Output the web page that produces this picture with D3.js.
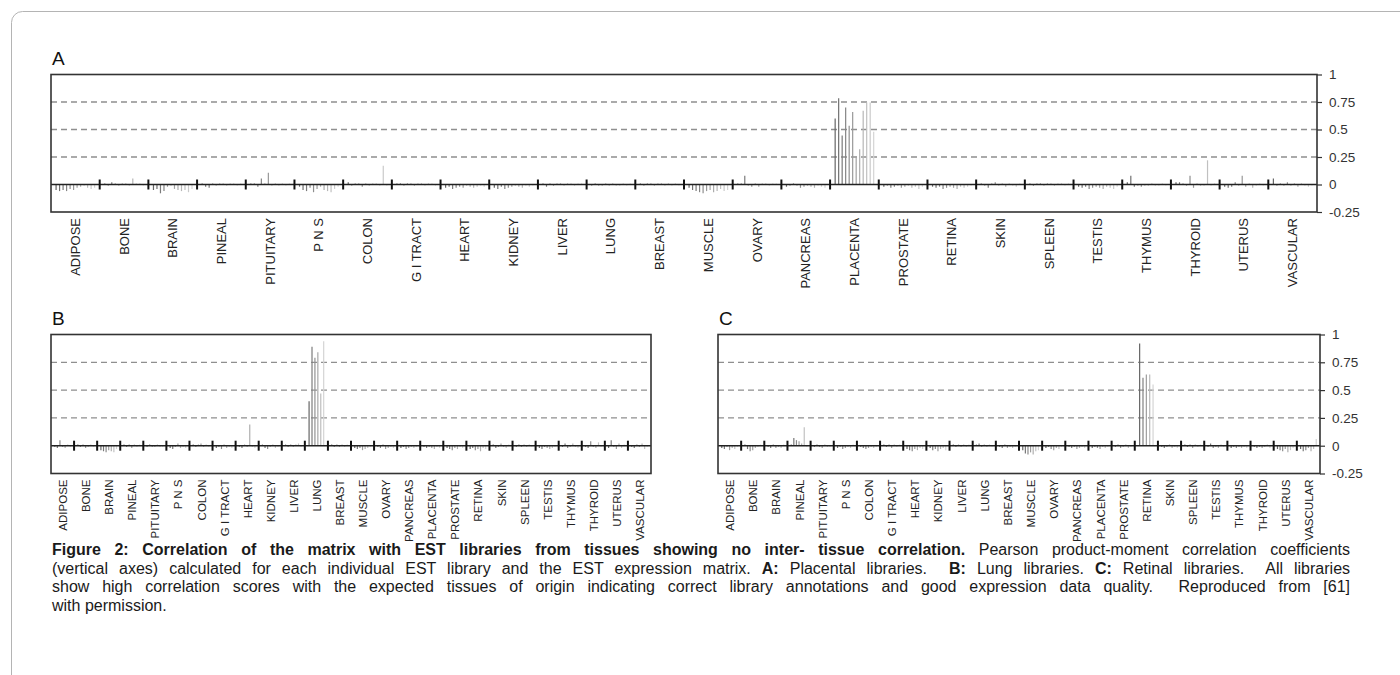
<!DOCTYPE html>
<html>
<head>
<meta charset="utf-8">
<script src="https://cdn.jsdelivr.net/npm/d3@7"></script>
<style>
  body { margin: 0; background: #fff; }
  svg { display: block; font-family: 'Liberation Sans', Arial, sans-serif; }
</style>
</head>
<body>
<svg id="fig" width="1400" height="675"></svg>
<script>
// tissue categories (same for all three panels)
let tissues = ['ADIPOSE', 'BONE', 'BRAIN', 'PINEAL', 'PITUITARY', 'P N S', 'COLON', 'G I TRACT',
  'HEART', 'KIDNEY', 'LIVER', 'LUNG', 'BREAST', 'MUSCLE', 'OVARY', 'PANCREAS', 'PLACENTA',
  'PROSTATE', 'RETINA', 'SKIN', 'SPLEEN', 'TESTIS', 'THYMUS', 'THYROID', 'UTERUS', 'VASCULAR']

let yTicks = [-0.25, 0, 0.25, 0.5, 0.75, 1]
let gridValues = [0.25, 0.5, 0.75]

// A: correlation with placental libraries, one array per tissue
let placentalCorr = [
  [-0.05, -0.06, -0.05, -0.06, -0.04, -0.05, -0.03, -0.02, -0.01, -0.03, -0.04, -0.03],
  [0.01, -0.01, 0.02, 0.01, -0.01, 0.01, 0.01, -0.01, 0.055, 0.01, 0.01, -0.01],
  [-0.05, -0.04, -0.08, -0.06, -0.02, -0.01, -0.04, -0.05, -0.06, -0.05, -0.07, -0.04],
  [0.01, -0.02, -0.03, 0.01, -0.01, 0.01, 0.01, -0.01, 0.01, 0.01, -0.01, 0.01],
  [0.01, 0.01, -0.02, 0.055, 0.01, 0.106, -0.01, 0.01, -0.01, 0.01, -0.01, 0.01],
  [-0.02, -0.05, -0.06, -0.03, -0.07, -0.04, -0.02, -0.05, -0.06, -0.07, -0.04, -0.02],
  [0.02, -0.01, 0.01, 0.01, -0.02, 0.01, -0.01, 0.01, 0.01, -0.01, 0.17, -0.01],
  [0.01, 0.01, -0.01, 0.01, 0.01, -0.01, 0.01, 0.01, -0.01, 0.01, 0.01, -0.01],
  [-0.03, -0.02, -0.04, -0.03, -0.02, -0.03, -0.01, -0.02, -0.03, -0.02, -0.01, -0.02],
  [-0.03, -0.04, -0.02, -0.04, -0.03, -0.02, -0.01, -0.02, -0.03, -0.01, -0.02, -0.01],
  [0.01, -0.02, 0.01, -0.01, 0.01, 0.01, -0.01, 0.01, 0.01, -0.01, 0.01, 0.01],
  [-0.01, 0.01, -0.01, -0.01, 0.01, -0.01, 0.01, -0.01, -0.01, 0.01, -0.01, 0.01],
  [0.01, -0.01, 0.01, 0.01, -0.01, 0.01, 0.01, -0.01, 0.01, -0.01, 0.01, -0.01],
  [-0.03, -0.05, -0.06, -0.07, -0.08, -0.06, -0.05, -0.07, -0.06, -0.04, -0.06, -0.05],
  [0.01, 0.01, 0.08, -0.01, -0.02, 0.01, -0.02, 0.01, 0.01, -0.01, 0.01, 0.01],
  [-0.02, -0.01, 0.01, -0.01, -0.03, -0.02, -0.01, -0.02, -0.03, -0.01, -0.02, -0.03],
  [0.6, 0.785, 0.445, 0.7, 0.535, 0.66, 0.255, 0.32, 0.67, 0.745, 0.745, 0.48],
  [-0.02, -0.01, -0.03, -0.02, -0.01, -0.03, -0.02, -0.01, -0.03, -0.02, -0.04, -0.02],
  [-0.02, -0.03, -0.02, -0.04, -0.03, -0.02, -0.03, -0.04, -0.02, -0.03, -0.02, -0.01],
  [0.01, -0.01, -0.03, 0.01, 0.02, -0.01, 0.01, -0.02, 0.01, -0.01, -0.02, 0.01],
  [0.01, -0.01, 0.01, 0.01, -0.01, 0.01, 0.01, -0.01, 0.01, 0.01, -0.01, 0.01],
  [-0.02, -0.03, -0.02, -0.04, -0.03, -0.02, -0.03, -0.04, -0.02, -0.03, -0.04, -0.02],
  [0.02, 0.08, -0.02, -0.01, -0.02, -0.01, -0.01, 0.01, -0.01, -0.01, 0.01, -0.01],
  [0.02, 0.02, 0.01, -0.01, 0.08, -0.03, 0.01, -0.01, -0.01, 0.22, -0.01, 0.01],
  [-0.02, -0.03, -0.02, 0.02, -0.01, 0.08, -0.02, 0.01, -0.03, -0.01, 0.01, -0.01],
  [0.055, -0.01, 0.01, -0.01, 0.02, -0.01, 0.01, -0.02, 0.01, -0.01, -0.02, -0.01]
]

// B: correlation with lung libraries
let lungCorr = [
  [-0.01, -0.02, 0.05, -0.01, -0.02, 0.01, -0.01],
  [0.01, -0.01, 0.01, -0.02, -0.01, 0.01, -0.01],
  [-0.04, -0.05, -0.06, -0.04, -0.05, -0.06, -0.03],
  [0.01, -0.01, 0.01, -0.02, 0.01, -0.01, 0.01],
  [-0.01, 0.01, -0.01, -0.01, 0.01, -0.01, -0.01],
  [-0.02, -0.03, -0.01, 0.02, -0.02, -0.01, -0.02],
  [0.01, -0.01, 0.01, 0.02, -0.01, 0.01, -0.01],
  [-0.02, -0.01, -0.03, 0.01, -0.02, -0.01, -0.02],
  [-0.01, -0.02, 0.01, -0.01, 0.19, -0.01, -0.02],
  [0.01, -0.02, -0.03, -0.01, 0.01, -0.02, -0.01],
  [0.01, -0.01, 0.01, -0.01, 0.01, 0.02, -0.01],
  [0.4, 0.89, 0.79, 0.84, 0.47, 0.94],
  [0.01, -0.01, 0.01, -0.01, 0.01, -0.01, 0.01],
  [-0.02, -0.03, -0.02, -0.04, -0.03, -0.02, -0.01],
  [-0.01, -0.02, 0.01, -0.03, -0.02, -0.01, -0.02],
  [-0.02, -0.01, -0.03, -0.02, -0.01, -0.02, -0.01],
  [-0.01, -0.02, -0.01, -0.02, -0.03, -0.01, -0.02],
  [-0.02, -0.03, -0.04, -0.02, -0.03, -0.01, -0.02],
  [-0.03, -0.02, -0.04, -0.03, -0.05, -0.02, -0.03],
  [0.01, -0.02, -0.01, 0.02, -0.01, -0.02, 0.01],
  [-0.01, 0.01, -0.01, 0.01, -0.01, 0.01, -0.01],
  [-0.02, -0.03, -0.01, -0.02, -0.03, -0.02, -0.01],
  [-0.01, 0.02, -0.02, -0.01, 0.02, -0.01, -0.02],
  [-0.01, -0.02, 0.04, -0.01, -0.02, 0.03, -0.01],
  [-0.02, 0.05, -0.01, -0.03, 0.02, -0.02, 0.01],
  [-0.01, -0.02, 0.01, -0.01, 0.02, -0.03, -0.01]
]

// C: correlation with retinal libraries
let retinalCorr = [
  [-0.02, -0.03, -0.01, -0.04, -0.02, -0.03, -0.01],
  [0.01, -0.03, -0.05, -0.04, -0.02, -0.01, 0.01],
  [-0.01, -0.02, 0.01, -0.02, -0.01, -0.02, 0.01],
  [0.01, 0.07, 0.05, 0.04, 0.02, 0.165, -0.01],
  [-0.01, 0.01, -0.01, -0.02, 0.01, -0.01, -0.01],
  [-0.02, -0.01, -0.03, -0.02, -0.01, -0.02, 0.01],
  [-0.01, -0.02, -0.03, -0.02, -0.01, -0.02, -0.01],
  [0.01, -0.01, 0.01, -0.02, 0.01, -0.01, 0.01],
  [-0.03, -0.04, -0.05, -0.03, -0.04, -0.02, -0.03],
  [-0.02, -0.04, -0.03, -0.05, -0.03, -0.02, -0.04],
  [0.01, -0.01, 0.01, -0.01, 0.01, -0.01, 0.01],
  [0.01, 0.02, -0.01, 0.01, -0.01, 0.01, -0.01],
  [-0.01, -0.02, 0.01, -0.02, -0.01, -0.02, -0.01],
  [-0.04, -0.07, -0.08, -0.06, -0.08, -0.05, -0.04],
  [-0.02, -0.01, -0.03, -0.04, -0.02, -0.03, -0.01],
  [-0.01, -0.02, -0.01, -0.03, -0.02, -0.01, -0.02],
  [-0.02, -0.01, -0.02, -0.03, -0.01, -0.02, -0.01],
  [-0.01, 0.01, -0.02, -0.01, 0.01, -0.02, -0.01],
  [0.92, 0.61, 0.64, 0.64, 0.55],
  [-0.01, -0.02, -0.01, 0.01, -0.02, -0.01, -0.02],
  [0.01, -0.01, 0.01, -0.02, 0.01, -0.01, 0.01],
  [-0.01, 0.02, -0.02, -0.01, -0.02, 0.01, -0.01],
  [-0.02, -0.01, -0.02, -0.01, -0.02, -0.01, -0.02],
  [-0.01, -0.02, -0.01, -0.02, -0.01, 0.01, -0.02],
  [-0.03, -0.04, -0.05, -0.03, -0.06, -0.04, -0.02],
  [-0.03, -0.05, -0.04, -0.02, -0.05, -0.03, 0.06]
]

let svg = d3.select('#fig')

// light frame around the figure
svg.append('rect')
  .attr('x', 11.5).attr('y', 11.5)
  .attr('width', 1420).attr('height', 700)
  .attr('rx', 11)
  .attr('fill', 'none')
  .attr('stroke', '#b4b4b4')

let panels = [
  { key: 'A', data: placentalCorr, left: 51, right: 1317, top: 74.5, bottom: 212, axis: true, labelSize: 13 },
  { key: 'B', data: lungCorr, left: 51, right: 651, top: 334.5, bottom: 473.5, axis: false, labelSize: 11.5 },
  { key: 'C', data: retinalCorr, left: 718, right: 1320, top: 334.5, bottom: 473.5, axis: true, labelSize: 11.5 }
]

let shade = d3.interpolateRgb('#666', '#d4d4d4')

panels.forEach(p => {
  let xScale = d3.scaleBand().domain(tissues).range([p.left, p.right])
  let yScale = d3.scaleLinear().domain([-0.25, 1]).range([p.bottom, p.top])
  let g = svg.append('g').attr('class', 'panel-' + p.key)

  g.append('text')
    .text(p.key)
    .attr('x', p.left + 1)
    .attr('y', p.top - 10)
    .attr('font-size', 19)
    .attr('fill', '#111')

  // dashed gridlines
  g.selectAll('.grid')
    .data(gridValues)
    .enter()
    .append('line')
    .attr('x1', p.left).attr('x2', p.right)
    .attr('y1', d => yScale(d)).attr('y2', d => yScale(d))
    .attr('stroke', '#8f8f8f')
    .attr('stroke-width', 1.3)
    .attr('stroke-dasharray', '6,4')

  // library bars, grouped by tissue
  tissues.forEach((t, ti) => {
    let vals = p.data[ti]
    let inner = d3.scalePoint()
      .domain(d3.range(vals.length))
      .range([0, xScale.bandwidth()])
      .padding(1.45)
    g.selectAll('.bar-' + ti)
      .data(vals)
      .enter()
      .append('line')
      .attr('x1', (d, i) => xScale(t) + inner(i))
      .attr('x2', (d, i) => xScale(t) + inner(i))
      .attr('y1', yScale(0))
      .attr('y2', d => yScale(d))
      .attr('stroke', (d, i) => shade(vals.length > 1 ? i / (vals.length - 1) : 0))
      .attr('stroke-width', 1.2)
  })

  // zero line and group dividers
  g.append('line')
    .attr('x1', p.left).attr('x2', p.right)
    .attr('y1', yScale(0)).attr('y2', yScale(0))
    .attr('stroke', '#222')
    .attr('stroke-width', 1.5)

  g.selectAll('.divider')
    .data(tissues.slice(1))
    .enter()
    .append('line')
    .attr('x1', d => xScale(d)).attr('x2', d => xScale(d))
    .attr('y1', yScale(0) - 5).attr('y2', yScale(0) + 5)
    .attr('stroke', '#111')
    .attr('stroke-width', 2)

  // frame
  g.append('rect')
    .attr('x', p.left).attr('y', p.top)
    .attr('width', p.right - p.left).attr('height', p.bottom - p.top)
    .attr('fill', 'none')
    .attr('stroke', '#333')
    .attr('stroke-width', 1.6)

  if (p.axis) {
    let yAxis = d3.axisRight(yScale)
      .tickValues(yTicks)
      .tickSize(5)
      .tickPadding(7)
      .tickFormat(d => String(d))
    let ag = g.append('g')
      .attr('transform', `translate(${p.right},0)`)
      .call(yAxis)
    ag.select('.domain').remove()
    ag.selectAll('line').attr('stroke', '#333').attr('stroke-width', 1.2)
    ag.selectAll('text')
      .attr('font-size', 13.5)
      .attr('font-family', "'Liberation Sans', Arial, sans-serif")
      .attr('fill', '#333')
  }

  // rotated tissue labels
  g.selectAll('.cat')
    .data(tissues)
    .enter()
    .append('text')
    .text(d => d)
    .attr('transform', d => `translate(${xScale(d) + xScale.bandwidth() / 2 + 4.5},${p.bottom + 6}) rotate(-90)`)
    .attr('text-anchor', 'end')
    .attr('font-size', p.labelSize)
    .attr('fill', '#222')
})

// caption, justified across the figure width
let captionLines = [
  [['Figure 2: Correlation of the matrix with EST libraries from tissues showing no inter- tissue correlation.', true],
    [' Pearson product-moment correlation coefficients', false]],
  [['(vertical axes) calculated for each individual EST library and the EST expression matrix. ', false],
    ['A:', true], [' Placental libraries.  ', false], ['B:', true], [' Lung libraries. ', false],
    ['C:', true], [' Retinal libraries.  All libraries', false]],
  [['show high correlation scores with the expected tissues of origin indicating correct library annotations and good expression data quality.  Reproduced from [61]', false]],
  [['with permission.', false]]
]

let capLeft = 52
let capWidth = 1298
let cap = svg.append('g').attr('class', 'caption')

captionLines.forEach((line, li) => {
  let t = cap.append('text')
    .attr('x', 0)
    .attr('y', 0)
    .attr('font-size', 16)
    .attr('fill', '#1a1a1a')
    .attr('xml:space', 'preserve')
  line.forEach(([s, bold]) => {
    t.append('tspan').text(s).attr('font-weight', bold ? 'bold' : 'normal')
  })
  let sx = 1
  if (li < captionLines.length - 1) {
    let natural = t.node().getComputedTextLength()
    if (natural > capWidth) {
      sx = capWidth / natural
    } else {
      let spaces = t.text().split(' ').length - 1
      t.attr('word-spacing', (capWidth - natural) / spaces)
    }
  }
  t.attr('transform', `translate(${capLeft},${555 + li * 18.7}) scale(${sx},1)`)
})
</script>
</body>
</html>
